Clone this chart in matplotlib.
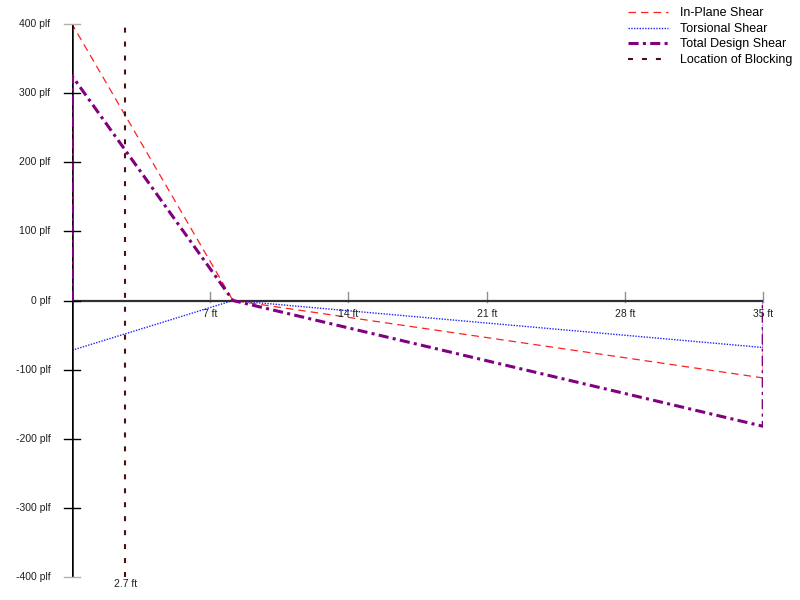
import matplotlib
matplotlib.use("Agg")
import matplotlib.pyplot as plt
from matplotlib.lines import Line2D

plt.rcParams['font.family'] = ['Liberation Sans', 'DejaVu Sans']

# shear diagrams (ft, plf)
x_pts = [0, 0, 8.15, 35, 35]
in_plane = [0, 400, 0, -112, 0]
torsional = [0, -72, 0, -68, 0]
total = [0, 325, 0, -182, 0]
blocking = 2.7

x_ticks = [7, 14, 21, 28, 35]
y_ticks = [-400, -300, -200, -100, 0, 100, 200, 300, 400]

red_style = dict(color='#ff2020', lw=0.9, dashes=(6, 4))
blue_style = dict(color='#2020ff', lw=1.0, dashes=(1, 1))
purple_style = dict(color='#800080', lw=2.2, dashes=(3.3, 1.4, 1, 1.4))
block_style = dict(color='#4a0f0f', lw=1.5, dashes=(2.4, 4.3))

fig = plt.figure(figsize=(8, 6), dpi=100)
ax = fig.add_axes([0.09, 0.0383, 0.864, 0.9217])
ax.set_xlim(0, 35)
ax.set_ylim(-400, 400)

ax.plot(x_pts, in_plane, label='In-Plane Shear', **red_style)
ax.plot(x_pts, torsional, label='Torsional Shear', **blue_style)
ax.axvline(0, color='black', lw=1.8, zorder=2)
ax.axhline(0, color='#303030', lw=1.6, zorder=2)
ax.plot(x_pts, total, label='Total Design Shear', zorder=3, **purple_style)
ax.axvline(blocking, zorder=3, **block_style)

for s in ax.spines.values():
    s.set_visible(False)

ax.set_xticks([])
ax.set_yticks([])

# y ticks + labels
for v in y_ticks:
    c = '#b0b0b0' if abs(v) == 400 else 'black'
    ax.plot([-0.38, 0.38], [v, v], color=c, lw=1, clip_on=False, zorder=4)
    ax.text(-1.1, v, f'{v} plf', ha='right', va='center', fontsize=7.5, color='#202020')

# x ticks + labels
for v in x_ticks:
    ax.plot([v, v], [-2, 12], color='#909090', lw=1, clip_on=False, zorder=1)
    ax.text(v, -12, f'{v} ft', ha='center', va='top', fontsize=7.5, color='#202020')
ax.text(blocking, -403, f'{blocking} ft', ha='center', va='top', fontsize=7.5, color='#202020')

handles = [Line2D([], [], **st) for st in (red_style, blue_style, purple_style, block_style)]
labels = ['In-Plane Shear', 'Torsional Shear', 'Total Design Shear', 'Location of Blocking']
fig.legend(handles, labels, loc='upper right', bbox_to_anchor=(1.0, 1.0), frameon=False,
           fontsize=9, handlelength=3.2, handletextpad=0.95, labelspacing=0.28,
           borderaxespad=0.2)

fig.savefig('out.png', dpi=100)
